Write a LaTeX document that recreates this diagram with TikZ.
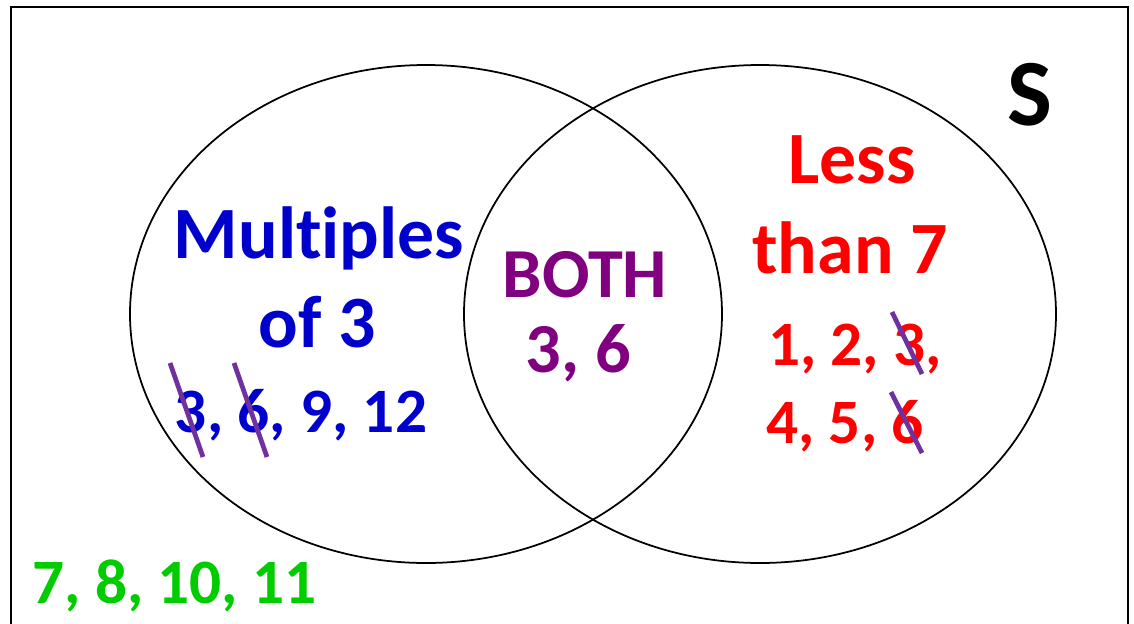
\documentclass[tikz,border=0pt]{standalone}
\usepackage{fontspec}
\setmainfont{Carlito}[Ligatures=NoCommon]
\usetikzlibrary{positioning}

\definecolor{setblue}{RGB}{0,0,204}
\definecolor{setred}{RGB}{255,0,0}
\definecolor{setpurple}{RGB}{128,0,128}
\definecolor{setgreen}{RGB}{0,204,0}
\definecolor{strike}{RGB}{112,48,160}

\begin{document}
\begin{tikzpicture}[x=0.02cm, y=-0.02cm,
  word/.style={anchor=base, font=\fontsize{42}{48}\selectfont\bfseries, inner sep=0pt},
  nums/.style={anchor=base, font=\fontsize{36}{42}\selectfont\bfseries, inner sep=0pt},
  strikeout/.style={strike, line width=2.7pt}]
\useasboundingbox (0,0) rectangle (1134,623);
\clip (0,0) rectangle (1134,623);
\draw[line width=1.4pt] (11,7) rectangle (1128,660);
% the two sets
\draw[line width=1pt] (426,314) ellipse [x radius=296, y radius=249];
\draw[line width=1pt] (760,314) ellipse [x radius=296, y radius=249];
\node[anchor=base, font=\fontsize{54}{60}\selectfont\bfseries, inner sep=0pt] (univ) at (1030,125) {S};
% left set
\node[word, setblue] (mult) at (319,258) {Multiples};
\node[word, setblue] (of3) at (317,347) {of 3};
\node[nums, setblue] (multnums) at (301,432) {3, 6, 9, 12};
% middle
\node[word, setpurple, font=\fontsize{40}{46}\selectfont\bfseries] (both) at (585,297) {BOTH};
\node[word, setpurple, font=\fontsize{40}{46}\selectfont\bfseries] (bothnums) at (578,372) {3, 6};
% right set
\node[word, setred] (less) at (852,183) {Less};
\node[word, setred] (than) at (850,273) {than 7};
\node[nums, setred] (lessa) at (855,365) {1, 2, 3,};
\node[nums, setred] (lessb) at (845,443) {4, 5, 6};
% outside
\node[nums, setgreen, anchor=base west] (rest) at (32,603) {7, 8, 10, 11};
% crossed out numbers
\foreach \xa/\ya/\xb/\yb in {170/363/203/457, 234/363/267/457, 892/312/922/374, 891/392/922/453}
  \draw[strikeout] (\xa,\ya) -- (\xb,\yb);
\end{tikzpicture}
\end{document}
